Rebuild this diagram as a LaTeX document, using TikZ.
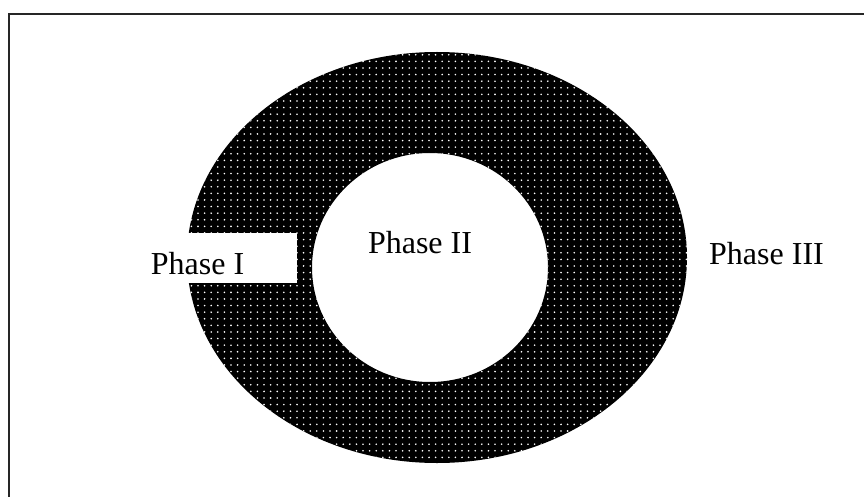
\documentclass[tikz,border=0pt]{standalone}
\usepackage{fontspec}
\setmainfont{Liberation Serif}
\usetikzlibrary{patterns.meta}

\tikzset{
  phase/.style={font=\fontsize{32}{38}\selectfont, anchor=base, inner sep=0pt},
  dotfill/.style={pattern={Dots[distance=6.6pt, radius=0.9pt]}, pattern color=white},
  frameline/.style={line width=2pt, black!85}
}

\begin{document}
\begin{tikzpicture}[x=1pt, y=-1pt]
  \useasboundingbox (0,0) rectangle (864,497);

  % frame (only top and left edges show)
  \coordinate (fbl) at (9,497);
  \coordinate (ftl) at (9,14);
  \coordinate (ftr) at (864,14);
  \draw[frameline] (fbl) -- (ftl) -- (ftr);

  % ring
  \fill[black, even odd rule] (437,257.5) ellipse [x radius=250, y radius=205.5]
                              (430,267.5) ellipse [x radius=118, y radius=114.5];
  \fill[dotfill, even odd rule] (437,257.5) ellipse [x radius=250, y radius=205.5]
                                (430,267.5) ellipse [x radius=118, y radius=114.5];

  % opening for phase I
  \node(gap) [fill=white, minimum width=200pt, minimum height=50pt, inner sep=0pt] at (197,258) {};

  \node(p1) [phase] at (197.5,274) {Phase I};
  \node(p2) [phase] at (420,253) {Phase II};
  \node(p3) [phase] at (766.5,264) {Phase III};
\end{tikzpicture}
\end{document}
